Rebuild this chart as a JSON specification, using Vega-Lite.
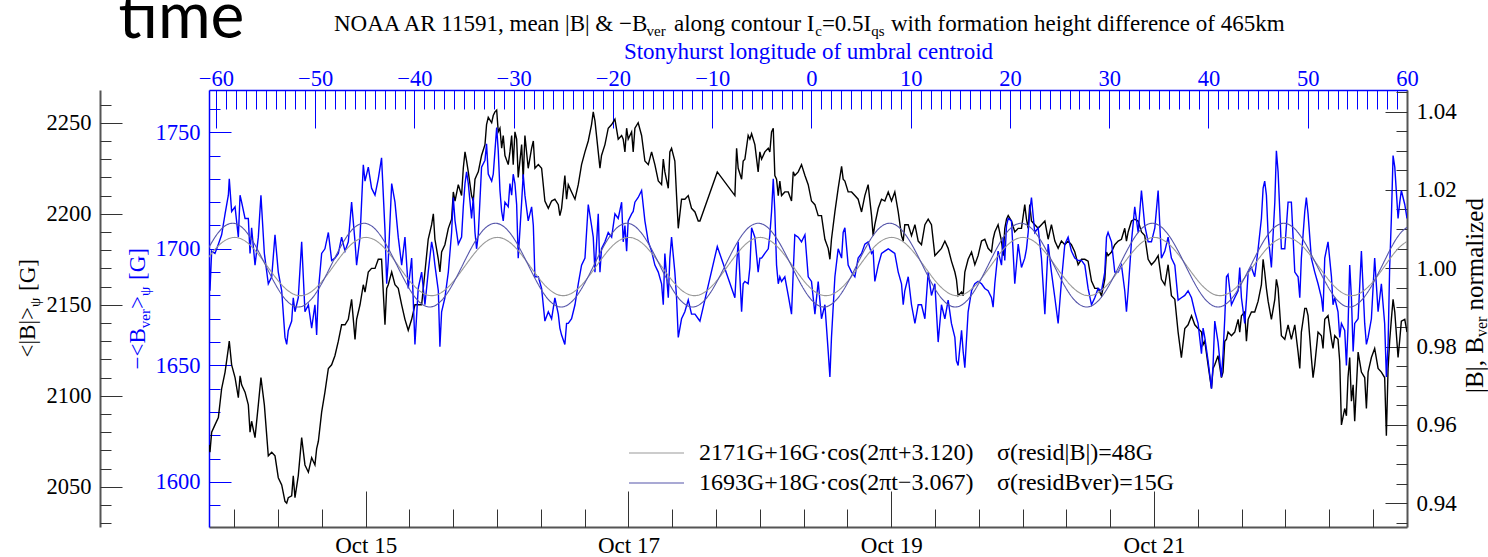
{
"$schema": "https://vega.github.io/schema/vega-lite/v6.json",
"width": 1198, "height": 437,
"autosize": {"type": "none"},
"padding": {"left": 209, "top": 90, "right": 81, "bottom": 30},
"background": "white",
"config": {
 "font": "Liberation Serif",
 "style": {"guide-label": {"font": "Liberation Serif"}, "guide-title": {"font": "Liberation Serif"}},
 "view": {"stroke": null},
 "axis": {"grid": false, "labelFlush": false, "labelOverlap": false, "labelBound": false, "labelFont": "Liberation Serif", "titleFont": "Liberation Serif", "labelFontSize": 22.5, "titleFontSize": 23, "titleFontWeight": "normal", "labelColor": "#000000", "titleColor": "#000000", "tickColor": "#333333", "tickWidth": 1, "domainColor": "#555555", "domainWidth": 2, "titleAlign": "left", "titleBaseline": "alphabetic", "titleLimit": 2000},
 "axisLeft": {"labelFont": "Liberation Serif"},
 "axisRight": {"labelFont": "Liberation Serif"},
 "axisTop": {"labelFont": "Liberation Serif"},
 "axisBottom": {"labelFont": "Liberation Serif"}
},
"datasets": {
"m": [
{"d":13.808,"B":2073,"V":1700},{"d":13.815,"B":2069,"V":1682},{"d":13.828,"B":2080,"V":1699},{"d":13.853,"B":2084,"V":1698},{"d":13.879,"B":2088,"V":1702},{"d":13.904,"B":2104,"V":1706},{"d":13.930,"B":2113,"V":1715},{"d":13.955,"B":2126,"V":1723},{"d":13.962,"B":2130,"V":1730},{"d":13.980,"B":2117,"V":1716},{"d":14.006,"B":2110,"V":1718},{"d":14.031,"B":2099,"V":1705},{"d":14.044,"B":2111,"V":1723},{"d":14.056,"B":2106,"V":1720},{"d":14.082,"B":2102,"V":1713},{"d":14.107,"B":2095,"V":1713},{"d":14.120,"B":2080,"V":1698},{"d":14.132,"B":2086,"V":1709},{"d":14.158,"B":2077,"V":1693},{"d":14.183,"B":2095,"V":1705},{"d":14.203,"B":2110,"V":1723},{"d":14.229,"B":2095,"V":1698},{"d":14.259,"B":2067,"V":1685},{"d":14.285,"B":2069,"V":1688},{"d":14.310,"B":2067,"V":1706},{"d":14.335,"B":2055,"V":1690},{"d":14.361,"B":2051,"V":1682},{"d":14.386,"B":2042,"V":1662},{"d":14.399,"B":2041,"V":1659},{"d":14.411,"B":2044,"V":1665},{"d":14.437,"B":2045,"V":1669},{"d":14.449,"B":2056,"V":1679},{"d":14.462,"B":2044,"V":1673},{"d":14.487,"B":2056,"V":1679},{"d":14.513,"B":2077,"V":1703},{"d":14.538,"B":2062,"V":1673},{"d":14.564,"B":2058,"V":1676},{"d":14.589,"B":2066,"V":1666},{"d":14.614,"B":2062,"V":1676},{"d":14.627,"B":2071,"V":1663},{"d":14.640,"B":2075,"V":1682},{"d":14.665,"B":2091,"V":1698},{"d":14.690,"B":2102,"V":1700},{"d":14.716,"B":2115,"V":1707},{"d":14.741,"B":2117,"V":1695},{"d":14.766,"B":2122,"V":1696},{"d":14.792,"B":2130,"V":1698},{"d":14.817,"B":2139,"V":1705},{"d":14.843,"B":2139,"V":1699},{"d":14.868,"B":2142,"V":1703},{"d":14.893,"B":2153,"V":1720},{"d":14.919,"B":2131,"V":1703},{"d":14.931,"B":2142,"V":1693},{"d":14.957,"B":2150,"V":1705},{"d":14.982,"B":2161,"V":1736},{"d":14.995,"B":2157,"V":1729},{"d":15.020,"B":2168,"V":1735},{"d":15.045,"B":2170,"V":1726},{"d":15.071,"B":2170,"V":1723},{"d":15.096,"B":2175,"V":1730},{"d":15.121,"B":2175,"V":1739},{"d":15.147,"B":2139,"V":1708},{"d":15.160,"B":2159,"V":1685},{"d":15.172,"B":2161,"V":1695},{"d":15.198,"B":2168,"V":1728},{"d":15.223,"B":2161,"V":1720},{"d":15.248,"B":2159,"V":1705},{"d":15.274,"B":2150,"V":1693},{"d":15.299,"B":2142,"V":1705},{"d":15.324,"B":2136,"V":1683},{"d":15.350,"B":2142,"V":1696},{"d":15.375,"B":2150,"V":1659},{"d":15.400,"B":2150,"V":1683},{"d":15.426,"B":2150,"V":1690},{"d":15.451,"B":2168,"V":1676},{"d":15.476,"B":2186,"V":1690},{"d":15.502,"B":2194,"V":1703},{"d":15.515,"B":2200,"V":1699},{"d":15.527,"B":2186,"V":1693},{"d":15.553,"B":2175,"V":1682},{"d":15.565,"B":2168,"V":1658},{"d":15.578,"B":2179,"V":1673},{"d":15.603,"B":2183,"V":1679},{"d":15.629,"B":2192,"V":1690},
{"d":15.654,"B":2197,"V":1707},{"d":15.667,"B":2212,"V":1722},{"d":15.680,"B":2207,"V":1712},{"d":15.705,"B":2216,"V":1702},{"d":15.730,"B":2210,"V":1705},{"d":15.743,"B":2225,"V":1718},{"d":15.756,"B":2234,"V":1728},{"d":15.768,"B":2229,"V":1733},{"d":15.781,"B":2223,"V":1728},{"d":15.806,"B":2210,"V":1713},{"d":15.819,"B":2207,"V":1722},{"d":15.832,"B":2219,"V":1707},{"d":15.844,"B":2221,"V":1700},{"d":15.857,"B":2223,"V":1706},{"d":15.882,"B":2232,"V":1735},{"d":15.908,"B":2238,"V":1738},{"d":15.920,"B":2249,"V":1745},{"d":15.933,"B":2253,"V":1732},{"d":15.959,"B":2250,"V":1729},{"d":15.971,"B":2254,"V":1732},{"d":15.984,"B":2256,"V":1742},{"d":15.997,"B":2257,"V":1752},{"d":16.009,"B":2245,"V":1742},{"d":16.022,"B":2247,"V":1725},{"d":16.035,"B":2236,"V":1716},{"d":16.047,"B":2243,"V":1712},{"d":16.060,"B":2232,"V":1720},{"d":16.085,"B":2227,"V":1718},{"d":16.098,"B":2234,"V":1728},{"d":16.111,"B":2243,"V":1723},{"d":16.123,"B":2227,"V":1732},{"d":16.136,"B":2245,"V":1728},{"d":16.149,"B":2241,"V":1719},{"d":16.161,"B":2220,"V":1696},{"d":16.187,"B":2238,"V":1720},{"d":16.199,"B":2219,"V":1732},{"d":16.212,"B":2243,"V":1723},{"d":16.237,"B":2225,"V":1712},{"d":16.263,"B":2236,"V":1718},{"d":16.276,"B":2240,"V":1710},{"d":16.288,"B":2225,"V":1688},{"d":16.314,"B":2227,"V":1688},{"d":16.339,"B":2225,"V":1683},{"d":16.364,"B":2207,"V":1669},{"d":16.390,"B":2203,"V":1673},{"d":16.415,"B":2207,"V":1670},{"d":16.440,"B":2208,"V":1679},{"d":16.466,"B":2205,"V":1672},{"d":16.478,"B":2199,"V":1666},{"d":16.491,"B":2203,"V":1663},{"d":16.516,"B":2221,"V":1659},{"d":16.529,"B":2208,"V":1668},{"d":16.542,"B":2216,"V":1668},{"d":16.567,"B":2212,"V":1670},{"d":16.593,"B":2208,"V":1676},{"d":16.618,"B":2216,"V":1685},{"d":16.643,"B":2227,"V":1693},{"d":16.669,"B":2234,"V":1696},{"d":16.694,"B":2240,"V":1719},{"d":16.719,"B":2249,"V":1710},{"d":16.732,"B":2256,"V":1705},{"d":16.745,"B":2251,"V":1690},{"d":16.770,"B":2234,"V":1715},{"d":16.783,"B":2225,"V":1690},{"d":16.795,"B":2232,"V":1700},{"d":16.821,"B":2238,"V":1703},{"d":16.846,"B":2247,"V":1707},{"d":16.872,"B":2249,"V":1705},{"d":16.897,"B":2252,"V":1715},{"d":16.922,"B":2241,"V":1713},{"d":16.948,"B":2243,"V":1720},{"d":16.960,"B":2241,"V":1703},{"d":16.973,"B":2234,"V":1710},{"d":16.986,"B":2247,"V":1699},{"d":16.998,"B":2241,"V":1712},{"d":17.024,"B":2245,"V":1715},{"d":17.036,"B":2234,"V":1716},{"d":17.049,"B":2247,"V":1720},{"d":17.074,"B":2250,"V":1722},{"d":17.100,"B":2243,"V":1725},{"d":17.125,"B":2229,"V":1712},{"d":17.151,"B":2227,"V":1703},{"d":17.176,"B":2234,"V":1699},{"d":17.201,"B":2227,"V":1693},{"d":17.227,"B":2218,"V":1690},{"d":17.252,"B":2216,"V":1685},{"d":17.265,"B":2230,"V":1676},{"d":17.277,"B":2223,"V":1698},{"d":17.303,"B":2214,"V":1679},{"d":17.315,"B":2234,"V":1696},{"d":17.328,"B":2236,"V":1705},{"d":17.353,"B":2229,"V":1690},{"d":17.366,"B":2210,"V":1679},{"d":17.379,"B":2192,"V":1662},{"d":17.404,"B":2208,"V":1670},{"d":17.429,"B":2208,"V":1673},{"d":17.455,"B":2210,"V":1678},
{"d":17.480,"B":2203,"V":1672},{"d":17.506,"B":2201,"V":1672},{"d":17.531,"B":2196,"V":1670},{"d":17.544,"B":2196,"V":1669},{"d":17.676,"B":2223,"V":1701},{"d":17.810,"B":2210,"V":1679},{"d":17.823,"B":2236,"V":1693},{"d":17.835,"B":2225,"V":1703},{"d":17.861,"B":2219,"V":1673},{"d":17.873,"B":2229,"V":1685},{"d":17.886,"B":2230,"V":1686},{"d":17.911,"B":2243,"V":1685},{"d":17.924,"B":2241,"V":1692},{"d":17.937,"B":2244,"V":1709},{"d":17.962,"B":2238,"V":1705},{"d":17.987,"B":2223,"V":1690},{"d":18.000,"B":2234,"V":1696},{"d":18.013,"B":2230,"V":1696},{"d":18.038,"B":2234,"V":1698},{"d":18.064,"B":2236,"V":1700},{"d":18.076,"B":2234,"V":1706},{"d":18.089,"B":2245,"V":1716},{"d":18.102,"B":2247,"V":1730},{"d":18.114,"B":2221,"V":1716},{"d":18.127,"B":2219,"V":1693},{"d":18.140,"B":2210,"V":1685},{"d":18.152,"B":2218,"V":1688},{"d":18.165,"B":2210,"V":1686},{"d":18.190,"B":2212,"V":1688},{"d":18.216,"B":2212,"V":1680},{"d":18.241,"B":2207,"V":1672},{"d":18.254,"B":2223,"V":1690},{"d":18.266,"B":2221,"V":1706},{"d":18.292,"B":2223,"V":1705},{"d":18.317,"B":2227,"V":1703},{"d":18.343,"B":2221,"V":1706},{"d":18.368,"B":2216,"V":1688},{"d":18.393,"B":2207,"V":1686},{"d":18.419,"B":2205,"V":1672},{"d":18.444,"B":2199,"V":1686},{"d":18.469,"B":2199,"V":1670},{"d":18.495,"B":2186,"V":1676},{"d":18.520,"B":2181,"V":1656},{"d":18.533,"B":2175,"V":1645},{"d":18.545,"B":2186,"V":1662},{"d":18.571,"B":2201,"V":1688},{"d":18.596,"B":2214,"V":1700},{"d":18.622,"B":2226,"V":1696},{"d":18.634,"B":2219,"V":1707},{"d":18.647,"B":2218,"V":1709},{"d":18.672,"B":2212,"V":1693},{"d":18.698,"B":2212,"V":1690},{"d":18.723,"B":2210,"V":1688},{"d":18.748,"B":2208,"V":1696},{"d":18.774,"B":2201,"V":1698},{"d":18.799,"B":2210,"V":1702},{"d":18.824,"B":2216,"V":1703},{"d":18.850,"B":2199,"V":1698},{"d":18.862,"B":2188,"V":1699},{"d":18.875,"B":2194,"V":1686},{"d":18.901,"B":2203,"V":1693},{"d":18.926,"B":2208,"V":1698},{"d":18.951,"B":2207,"V":1699},{"d":18.977,"B":2212,"V":1700},{"d":19.002,"B":2207,"V":1699},{"d":19.027,"B":2212,"V":1698},{"d":19.053,"B":2201,"V":1690},{"d":19.078,"B":2188,"V":1685},{"d":19.091,"B":2185,"V":1676},{"d":19.103,"B":2194,"V":1682},{"d":19.129,"B":2194,"V":1688},{"d":19.154,"B":2188,"V":1676},{"d":19.180,"B":2194,"V":1668},{"d":19.205,"B":2185,"V":1676},{"d":19.230,"B":2183,"V":1676},{"d":19.256,"B":2194,"V":1670},{"d":19.281,"B":2197,"V":1690},
{"d":19.306,"B":2194,"V":1680},{"d":19.332,"B":2177,"V":1685},{"d":19.357,"B":2179,"V":1660},{"d":19.382,"B":2181,"V":1676},{"d":19.408,"B":2185,"V":1670},{"d":19.433,"B":2181,"V":1678},{"d":19.458,"B":2174,"V":1668},{"d":19.484,"B":2168,"V":1662},{"d":19.496,"B":2164,"V":1652},{"d":19.509,"B":2155,"V":1650},{"d":19.535,"B":2157,"V":1665},{"d":19.547,"B":2155,"V":1656},{"d":19.560,"B":2168,"V":1649},{"d":19.585,"B":2175,"V":1673},{"d":19.611,"B":2179,"V":1682},{"d":19.636,"B":2172,"V":1685},{"d":19.661,"B":2177,"V":1686},{"d":19.687,"B":2185,"V":1685},{"d":19.712,"B":2186,"V":1683},{"d":19.737,"B":2181,"V":1682},{"d":19.763,"B":2179,"V":1679},{"d":19.775,"B":2186,"V":1675},{"d":19.788,"B":2190,"V":1685},{"d":19.813,"B":2194,"V":1699},{"d":19.839,"B":2185,"V":1693},{"d":19.852,"B":2177,"V":1705},{"d":19.864,"B":2192,"V":1695},{"d":19.877,"B":2197,"V":1710},{"d":19.890,"B":2199,"V":1713},{"d":19.915,"B":2196,"V":1712},{"d":19.940,"B":2190,"V":1685},{"d":19.966,"B":2192,"V":1702},{"d":19.991,"B":2192,"V":1692},{"d":20.016,"B":2205,"V":1696},{"d":20.029,"B":2197,"V":1700},{"d":20.042,"B":2192,"V":1707},{"d":20.054,"B":2205,"V":1716},{"d":20.067,"B":2196,"V":1722},{"d":20.092,"B":2194,"V":1707},{"d":20.118,"B":2192,"V":1709},{"d":20.143,"B":2194,"V":1696},{"d":20.169,"B":2196,"V":1672},{"d":20.194,"B":2186,"V":1702},{"d":20.219,"B":2194,"V":1690},{"d":20.245,"B":2185,"V":1679},{"d":20.270,"B":2181,"V":1668},{"d":20.295,"B":2185,"V":1686},{"d":20.321,"B":2183,"V":1702},{"d":20.346,"B":2185,"V":1705},{"d":20.371,"B":2183,"V":1699},{"d":20.397,"B":2179,"V":1696},{"d":20.422,"B":2172,"V":1695},{"d":20.448,"B":2175,"V":1695},{"d":20.473,"B":2175,"V":1693},{"d":20.498,"B":2174,"V":1683},{"d":20.524,"B":2163,"V":1676},{"d":20.549,"B":2159,"V":1679},{"d":20.574,"B":2159,"V":1683},{"d":20.600,"B":2155,"V":1682},{"d":20.625,"B":2164,"V":1690},{"d":20.638,"B":2179,"V":1705},{"d":20.650,"B":2177,"V":1707},{"d":20.676,"B":2179,"V":1703},{"d":20.701,"B":2183,"V":1690},{"d":20.727,"B":2185,"V":1690},{"d":20.752,"B":2186,"V":1693},{"d":20.777,"B":2192,"V":1682},{"d":20.790,"B":2185,"V":1673},{"d":20.803,"B":2190,"V":1682},{"d":20.828,"B":2196,"V":1703},{"d":20.853,"B":2197,"V":1718},{"d":20.879,"B":2196,"V":1707},{"d":20.904,"B":2190,"V":1725},{"d":20.929,"B":2188,"V":1710},{"d":20.955,"B":2175,"V":1703},{"d":20.980,"B":2172,"V":1703},{"d":21.006,"B":2174,"V":1709},{"d":21.031,"B":2177,"V":1725},{"d":21.056,"B":2164,"V":1696},{"d":21.082,"B":2161,"V":1699},{"d":21.107,"B":2172,"V":1705},
{"d":21.132,"B":2155,"V":1696},{"d":21.158,"B":2153,"V":1693},{"d":21.183,"B":2135,"V":1678},{"d":21.208,"B":2121,"V":1679},{"d":21.234,"B":2137,"V":1680},{"d":21.259,"B":2139,"V":1682},{"d":21.285,"B":2144,"V":1679},{"d":21.310,"B":2139,"V":1673},{"d":21.335,"B":2137,"V":1668},{"d":21.361,"B":2135,"V":1655},{"d":21.373,"B":2128,"V":1666},{"d":21.386,"B":2130,"V":1662},{"d":21.411,"B":2117,"V":1652},{"d":21.437,"B":2104,"V":1640},{"d":21.449,"B":2115,"V":1650},{"d":21.462,"B":2117,"V":1669},{"d":21.487,"B":2122,"V":1660},{"d":21.513,"B":2110,"V":1645},{"d":21.525,"B":2113,"V":1655},{"d":21.538,"B":2130,"V":1670},{"d":21.551,"B":2131,"V":1688},{"d":21.563,"B":2135,"V":1689},{"d":21.589,"B":2133,"V":1676},{"d":21.614,"B":2135,"V":1679},{"d":21.640,"B":2142,"V":1682},{"d":21.652,"B":2135,"V":1692},{"d":21.665,"B":2144,"V":1679},{"d":21.690,"B":2146,"V":1668},{"d":21.703,"B":2130,"V":1678},{"d":21.716,"B":2142,"V":1690},{"d":21.741,"B":2146,"V":1692},{"d":21.766,"B":2146,"V":1688},{"d":21.792,"B":2152,"V":1700},{"d":21.817,"B":2161,"V":1713},{"d":21.830,"B":2175,"V":1726},{"d":21.842,"B":2168,"V":1729},{"d":21.855,"B":2159,"V":1723},{"d":21.868,"B":2152,"V":1706},{"d":21.893,"B":2142,"V":1692},{"d":21.919,"B":2153,"V":1720},{"d":21.931,"B":2164,"V":1742},{"d":21.944,"B":2159,"V":1733},{"d":21.969,"B":2133,"V":1700},{"d":21.995,"B":2131,"V":1700},{"d":22.020,"B":2139,"V":1720},{"d":22.045,"B":2131,"V":1720},{"d":22.071,"B":2139,"V":1690},{"d":22.096,"B":2124,"V":1688},{"d":22.109,"B":2115,"V":1679},{"d":22.121,"B":2135,"V":1696},{"d":22.147,"B":2148,"V":1716},{"d":22.159,"B":2148,"V":1722},{"d":22.172,"B":2144,"V":1715},{"d":22.197,"B":2121,"V":1696},{"d":22.210,"B":2110,"V":1693},{"d":22.223,"B":2117,"V":1690},{"d":22.248,"B":2135,"V":1685},{"d":22.274,"B":2133,"V":1679},{"d":22.286,"B":2126,"V":1673},{"d":22.299,"B":2142,"V":1696},{"d":22.324,"B":2144,"V":1703},{"d":22.350,"B":2131,"V":1688},{"d":22.362,"B":2126,"V":1676},{"d":22.375,"B":2133,"V":1679},{"d":22.400,"B":2131,"V":1673},{"d":22.413,"B":2119,"V":1662},{"d":22.426,"B":2084,"V":1668},{"d":22.451,"B":2093,"V":1665},{"d":22.464,"B":2089,"V":1650},{"d":22.476,"B":2110,"V":1666},{"d":22.489,"B":2121,"V":1693},{"d":22.502,"B":2097,"V":1679},{"d":22.515,"B":2106,"V":1656},{"d":22.527,"B":2086,"V":1668},{"d":22.553,"B":2124,"V":1670},{"d":22.578,"B":2113,"V":1699},{"d":22.603,"B":2110,"V":1668},{"d":22.616,"B":2093,"V":1659},{"d":22.629,"B":2113,"V":1662},{"d":22.654,"B":2121,"V":1670},{"d":22.679,"B":2126,"V":1696},{"d":22.705,"B":2115,"V":1673},{"d":22.730,"B":2113,"V":1685},{"d":22.755,"B":2110,"V":1668},{"d":22.768,"B":2078,"V":1645},{"d":22.781,"B":2115,"V":1659},{"d":22.793,"B":2130,"V":1692},{"d":22.806,"B":2142,"V":1713},{"d":22.819,"B":2153,"V":1740},{"d":22.832,"B":2146,"V":1735},{"d":22.857,"B":2121,"V":1713},{"d":22.870,"B":2131,"V":1720},{"d":22.882,"B":2141,"V":1725},{"d":22.908,"B":2142,"V":1719},{"d":22.925,"B":2135,"V":1713}
],
"fit": [
{"d":13.75,"F":2170.7,"G":1694.4},{"d":13.875,"F":2182.1,"G":1706.7},
{"d":14,"F":2187,"G":1710.9},{"d":14.125,"F":2182.5,"G":1704.7},{"d":14.25,"F":2171.3,"G":1691.6},{"d":14.375,"F":2159.9,"G":1679.3},{"d":14.5,"F":2155,"G":1675.1},{"d":14.625,"F":2159.5,"G":1681.3},{"d":14.75,"F":2170.7,"G":1694.4},{"d":14.875,"F":2182.1,"G":1706.7},
{"d":15,"F":2187,"G":1710.9},{"d":15.125,"F":2182.5,"G":1704.7},{"d":15.25,"F":2171.3,"G":1691.6},{"d":15.375,"F":2159.9,"G":1679.3},{"d":15.5,"F":2155,"G":1675.1},{"d":15.625,"F":2159.5,"G":1681.3},{"d":15.75,"F":2170.7,"G":1694.4},{"d":15.875,"F":2182.1,"G":1706.7},
{"d":16,"F":2187,"G":1710.9},{"d":16.125,"F":2182.5,"G":1704.7},{"d":16.25,"F":2171.3,"G":1691.6},{"d":16.375,"F":2159.9,"G":1679.3},{"d":16.5,"F":2155,"G":1675.1},{"d":16.625,"F":2159.5,"G":1681.3},{"d":16.75,"F":2170.7,"G":1694.4},{"d":16.875,"F":2182.1,"G":1706.7},
{"d":17,"F":2187,"G":1710.9},{"d":17.125,"F":2182.5,"G":1704.7},{"d":17.25,"F":2171.3,"G":1691.6},{"d":17.375,"F":2159.9,"G":1679.3},{"d":17.5,"F":2155,"G":1675.1},{"d":17.625,"F":2159.5,"G":1681.3},{"d":17.75,"F":2170.7,"G":1694.4},{"d":17.875,"F":2182.1,"G":1706.7},
{"d":18,"F":2187,"G":1710.9},{"d":18.125,"F":2182.5,"G":1704.7},{"d":18.25,"F":2171.3,"G":1691.6},{"d":18.375,"F":2159.9,"G":1679.3},{"d":18.5,"F":2155,"G":1675.1},{"d":18.625,"F":2159.5,"G":1681.3},{"d":18.75,"F":2170.7,"G":1694.4},{"d":18.875,"F":2182.1,"G":1706.7},
{"d":19,"F":2187,"G":1710.9},{"d":19.125,"F":2182.5,"G":1704.7},{"d":19.25,"F":2171.3,"G":1691.6},{"d":19.375,"F":2159.9,"G":1679.3},{"d":19.5,"F":2155,"G":1675.1},{"d":19.625,"F":2159.5,"G":1681.3},{"d":19.75,"F":2170.7,"G":1694.4},{"d":19.875,"F":2182.1,"G":1706.7},
{"d":20,"F":2187,"G":1710.9},{"d":20.125,"F":2182.5,"G":1704.7},{"d":20.25,"F":2171.3,"G":1691.6},{"d":20.375,"F":2159.9,"G":1679.3},{"d":20.5,"F":2155,"G":1675.1},{"d":20.625,"F":2159.5,"G":1681.3},{"d":20.75,"F":2170.7,"G":1694.4},{"d":20.875,"F":2182.1,"G":1706.7},
{"d":21,"F":2187,"G":1710.9},{"d":21.125,"F":2182.5,"G":1704.7},{"d":21.25,"F":2171.3,"G":1691.6},{"d":21.375,"F":2159.9,"G":1679.3},{"d":21.5,"F":2155,"G":1675.1},{"d":21.625,"F":2159.5,"G":1681.3},{"d":21.75,"F":2170.7,"G":1694.4},{"d":21.875,"F":2182.1,"G":1706.7},
{"d":22,"F":2187,"G":1710.9},{"d":22.125,"F":2182.5,"G":1704.7},{"d":22.25,"F":2171.3,"G":1691.6},{"d":22.375,"F":2159.9,"G":1679.3},{"d":22.5,"F":2155,"G":1675.1},{"d":22.625,"F":2159.5,"G":1681.3},{"d":22.75,"F":2170.7,"G":1694.4},{"d":22.875,"F":2182.1,"G":1706.7},
{"d":23,"F":2187,"G":1710.9}
],
"ax": [{"lon":-60,"n":0.94},{"lon":60,"n":1.04}]
},
"layer": [
{
 "data": {"name": "m"},
 "mark": {"type": "line", "color": "#000000", "strokeWidth": 1.4, "clip": true},
 "encoding": {
  "x": {"field": "d", "type": "quantitative", "scale": {"domain": [13.8077, 22.925], "nice": false, "zero": false},
   "axis": {"orient": "bottom", "values": [15,17,19,21], "labelExpr": "'Oct ' + datum.value", "tickSize": -36, "labelPadding": 43, "labelBaseline": "top", "labelFont": "Liberation Serif", "labelFontSize": 23, "title": null}},
  "y": {"field": "B", "type": "quantitative", "scale": {"domain": [2027.9, 2268], "nice": false, "zero": false},
   "axis": {"orient": "left", "offset": 109, "values": [2050,2100,2150,2200,2250], "format": "d", "tickSize": -22, "labelPadding": 31, "labelFont": "Liberation Serif", "labelFontSize": 22.5, "title": null}}
 }
},
{
 "data": {"name": "m"},
 "mark": {"type": "line", "color": "#0000ff", "strokeWidth": 1.4, "clip": true},
 "encoding": {
  "x": {"field": "d", "type": "quantitative", "scale": {"domain": [13.8077, 22.925], "nice": false, "zero": false},
   "axis": {"orient": "bottom", "values": [14,14.3333,14.6667,15,15.3333,15.6667,16,16.3333,16.6667,17,17.3333,17.6667,18,18.3333,18.6667,19,19.3333,19.6667,20,20.3333,20.6667,21,21.3333,21.6667,22,22.3333,22.6667], "tickSize": -18, "labels": false, "domain": false,
    "title": "time", "titleFont": "Lato", "titleFontSize": 64, "titleX": -91, "titleY": -490}},
  "y": {"field": "V", "type": "quantitative", "scale": {"domain": [1580.7, 1768.1], "nice": false, "zero": false},
   "axis": {"orient": "left", "offset": 0, "values": [1600,1650,1700,1750], "format": "d", "tickSize": -22, "labelPadding": 31, "labelFont": "Liberation Serif", "labelFontSize": 22.5, "tickColor": "#0000ff", "domainColor": "#0000ff", "domainWidth": 1.5, "labelColor": "#0000ff", "title": null}}
 }
},
{
 "data": {"name": "fit"},
 "mark": {"type": "line", "strokeWidth": 1.1, "interpolate": "natural", "clip": true},
 "encoding": {
  "x": {"field": "d", "type": "quantitative", "scale": {"domain": [13.8077, 22.925], "nice": false, "zero": false}, "axis": null},
  "y": {"field": "F", "type": "quantitative", "scale": {"domain": [2027.9, 2268], "nice": false, "zero": false},
   "axis": {"orient": "left", "offset": 109, "values": [2030,2040,2050,2060,2070,2080,2090,2100,2110,2120,2130,2140,2150,2160,2170,2180,2190,2200,2210,2220,2230,2240,2250,2260], "tickSize": -11, "labels": false, "domain": false, "title": null}},
  "color": {"datum": "2171G+16G·cos(2πt+3.120)", "scale": {"domain": ["2171G+16G·cos(2πt+3.120)", "1693G+18G·cos(2πt−3.067)"], "range": ["#999999", "#5555aa"]},
   "legend": {"orient": "none", "legendX": 419, "legendY": 348, "title": null, "symbolType": "stroke", "symbolSize": 3025, "symbolStrokeWidth": 1.2, "clipHeight": 30, "rowPadding": 0, "padding": 0, "labelFont": "Liberation Serif", "labelFontSize": 24, "labelColor": "#000000", "labelOffset": 14, "labelLimit": 800}},
  "strokeDash": {"datum": "σ(resid|B|)=48G", "scale": {"domain": ["σ(resid|B|)=48G", "σ(residBver)=15G"], "range": [[1,0],[1,0]]},
   "legend": {"orient": "none", "legendX": 764, "legendY": 348, "title": null, "symbolType": "stroke", "symbolSize": 1, "symbolOpacity": 0, "symbolStrokeWidth": 0, "clipHeight": 30, "rowPadding": 0, "padding": 0, "labelFont": "Liberation Serif", "labelFontSize": 24, "labelColor": "#000000", "labelOffset": 0, "labelLimit": 800,
    "encode": {"labels": {"update": {"fill": {"signal": "indexof(datum.label, 'ver') >= 0 ? '#0000ff' : '#000000'"}}}}}}
 }
},
{
 "data": {"name": "fit"},
 "mark": {"type": "line", "strokeWidth": 1.1, "interpolate": "natural", "clip": true},
 "encoding": {
  "x": {"field": "d", "type": "quantitative", "scale": {"domain": [13.8077, 22.925], "nice": false, "zero": false}, "axis": null},
  "y": {"field": "G", "type": "quantitative", "scale": {"domain": [1580.7, 1768.1], "nice": false, "zero": false},
   "axis": {"orient": "left", "offset": 0, "values": [1590,1600,1610,1620,1630,1640,1650,1660,1670,1680,1690,1700,1710,1720,1730,1740,1750,1760], "tickSize": -11, "tickColor": "#0000ff", "labels": false, "domain": false, "title": null}},
  "color": {"datum": "1693G+18G·cos(2πt−3.067)"},
  "strokeDash": {"datum": "σ(residBver)=15G"}
 }
},
{
 "data": {"name": "ax"},
 "mark": {"type": "point", "opacity": 0},
 "encoding": {
  "x": {"field": "lon", "type": "quantitative", "scale": {"domain": [-60.7, 60], "nice": false, "zero": false},
   "axis": {"orient": "top", "values": [-60,-50,-40,-30,-20,-10,0,10,20,30,40,50,60], "format": "d", "tickSize": -38, "labelPadding": 43, "labelBaseline": "alphabetic", "labelFont": "Liberation Serif", "labelFontSize": 22.5, "tickColor": "#0000ff", "domainColor": "#0000ff", "domainWidth": 1.5, "labelColor": "#0000ff",
    "title": "Stonyhurst longitude of umbral centroid", "titleColor": "#0000ff", "titleAlign": "center", "titleX": 599, "titleY": -32}},
  "y": {"field": "n", "type": "quantitative", "scale": {"domain": [0.93395, 1.0455], "nice": false, "zero": false},
   "axis": {"orient": "right", "values": [0.94,0.96,0.98,1.0,1.02,1.04], "format": ".2f", "tickSize": -22, "labelPadding": 31, "labelFont": "Liberation Serif", "labelFontSize": 23, "title": null}}
 }
},
{
 "data": {"name": "ax"},
 "mark": {"type": "point", "opacity": 0},
 "encoding": {
  "x": {"field": "lon", "type": "quantitative", "scale": {"domain": [-60.7, 60], "nice": false, "zero": false},
   "axis": {"orient": "top", "values": [-60,-59,-58,-57,-56,-55,-54,-53,-52,-51,-50,-49,-48,-47,-46,-45,-44,-43,-42,-41,-40,-39,-38,-37,-36,-35,-34,-33,-32,-31,-30,-29,-28,-27,-26,-25,-24,-23,-22,-21,-20,-19,-18,-17,-16,-15,-14,-13,-12,-11,-10,-9,-8,-7,-6,-5,-4,-3,-2,-1,0,1,2,3,4,5,6,7,8,9,10,11,12,13,14,15,16,17,18,19,20,21,22,23,24,25,26,27,28,29,30,31,32,33,34,35,36,37,38,39,40,41,42,43,44,45,46,47,48,49,50,51,52,53,54,55,56,57,58,59,60], "tickSize": -19, "tickColor": "#0000ff", "labels": false, "domain": false, "title": null}},
  "y": {"field": "n", "type": "quantitative", "scale": {"domain": [0.93395, 1.0455], "nice": false, "zero": false},
   "axis": {"orient": "right", "values": [0.935,0.94,0.945,0.95,0.955,0.96,0.965,0.97,0.975,0.98,0.985,0.99,0.995,1.0,1.005,1.01,1.015,1.02,1.025,1.03,1.035,1.04,1.045], "tickSize": -11, "labels": false, "domain": false, "title": null}}
 }
},
{
 "data": {"name": "ax"}, "mark": {"type": "point", "opacity": 0},
 "encoding": {
  "x": {"field": "lon", "type": "quantitative", "scale": {"domain": [-60.7, 60], "nice": false, "zero": false},
   "axis": {"orient": "top", "ticks": false, "labels": false, "domain": false, "title": "NOAA AR 11591, mean |B| & −B", "titleAngle": 0, "titleX": 124.5, "titleY": -59.5}},
  "y": {"field": "n", "type": "quantitative", "scale": {"domain": [0.93395, 1.0455], "nice": false, "zero": false},
   "axis": {"orient": "left", "offset": 0, "ticks": false, "labels": false, "domain": false, "title": "<|B|>", "titleAngle": 270, "titleX": -174.5, "titleY": 267}}
 }
},
{
 "data": {"name": "ax"}, "mark": {"type": "point", "opacity": 0},
 "encoding": {
  "x": {"field": "lon", "type": "quantitative", "scale": {"domain": [-60.7, 60], "nice": false, "zero": false},
   "axis": {"orient": "top", "ticks": false, "labels": false, "domain": false, "title": "ver", "titleFontSize": 15, "titleAngle": 0, "titleX": 437, "titleY": -54.5}},
  "y": {"field": "n", "type": "quantitative", "scale": {"domain": [0.93395, 1.0455], "nice": false, "zero": false},
   "axis": {"orient": "left", "offset": 0, "ticks": false, "labels": false, "domain": false, "title": "ψ", "titleFontSize": 15, "titleAngle": 270, "titleX": -169.5, "titleY": 216.5}}
 }
},
{
 "data": {"name": "ax"}, "mark": {"type": "point", "opacity": 0},
 "encoding": {
  "x": {"field": "lon", "type": "quantitative", "scale": {"domain": [-60.7, 60], "nice": false, "zero": false},
   "axis": {"orient": "top", "ticks": false, "labels": false, "domain": false, "title": "along contour I", "titleAngle": 0, "titleX": 464.5, "titleY": -59.5}},
  "y": {"field": "n", "type": "quantitative", "scale": {"domain": [0.93395, 1.0455], "nice": false, "zero": false},
   "axis": {"orient": "left", "offset": 0, "ticks": false, "labels": false, "domain": false, "title": "[G]", "titleAngle": 270, "titleX": -174.5, "titleY": 200.5}}
 }
},
{
 "data": {"name": "ax"}, "mark": {"type": "point", "opacity": 0},
 "encoding": {
  "x": {"field": "lon", "type": "quantitative", "scale": {"domain": [-60.7, 60], "nice": false, "zero": false},
   "axis": {"orient": "top", "ticks": false, "labels": false, "domain": false, "title": "c", "titleFontSize": 15, "titleAngle": 0, "titleX": 605.7, "titleY": -54.5}},
  "y": {"field": "n", "type": "quantitative", "scale": {"domain": [0.93395, 1.0455], "nice": false, "zero": false},
   "axis": {"orient": "left", "offset": 0, "ticks": false, "labels": false, "domain": false, "title": "−<B", "titleColor": "#0000ff", "titleAngle": 270, "titleX": -64.5, "titleY": 279}}
 }
},
{
 "data": {"name": "ax"}, "mark": {"type": "point", "opacity": 0},
 "encoding": {
  "x": {"field": "lon", "type": "quantitative", "scale": {"domain": [-60.7, 60], "nice": false, "zero": false},
   "axis": {"orient": "top", "ticks": false, "labels": false, "domain": false, "title": "=0.5I", "titleAngle": 0, "titleX": 612.4, "titleY": -59.5}},
  "y": {"field": "n", "type": "quantitative", "scale": {"domain": [0.93395, 1.0455], "nice": false, "zero": false},
   "axis": {"orient": "left", "offset": 0, "ticks": false, "labels": false, "domain": false, "title": "ver", "titleFontSize": 15, "titleColor": "#0000ff", "titleAngle": 270, "titleX": -59.5, "titleY": 237.7}}
 }
},
{
 "data": {"name": "ax"}, "mark": {"type": "point", "opacity": 0},
 "encoding": {
  "x": {"field": "lon", "type": "quantitative", "scale": {"domain": [-60.7, 60], "nice": false, "zero": false},
   "axis": {"orient": "top", "ticks": false, "labels": false, "domain": false, "title": "qs", "titleFontSize": 15, "titleAngle": 0, "titleX": 661.8, "titleY": -54.5}},
  "y": {"field": "n", "type": "quantitative", "scale": {"domain": [0.93395, 1.0455], "nice": false, "zero": false},
   "axis": {"orient": "left", "offset": 0, "ticks": false, "labels": false, "domain": false, "title": ">", "titleColor": "#0000ff", "titleAngle": 270, "titleX": -64.5, "titleY": 218.5}}
 }
},
{
 "data": {"name": "ax"}, "mark": {"type": "point", "opacity": 0},
 "encoding": {
  "x": {"field": "lon", "type": "quantitative", "scale": {"domain": [-60.7, 60], "nice": false, "zero": false},
   "axis": {"orient": "top", "ticks": false, "labels": false, "domain": false, "title": "with formation height difference of 465km", "titleAngle": 0, "titleX": 681.4, "titleY": -59.5}},
  "y": {"field": "n", "type": "quantitative", "scale": {"domain": [0.93395, 1.0455], "nice": false, "zero": false},
   "axis": {"orient": "left", "offset": 0, "ticks": false, "labels": false, "domain": false, "title": "ψ", "titleFontSize": 15, "titleColor": "#0000ff", "titleAngle": 270, "titleX": -59.5, "titleY": 205.5}}
 }
},
{
 "data": {"name": "ax"}, "mark": {"type": "point", "opacity": 0},
 "encoding": {
  "x": {"field": "lon", "type": "quantitative", "scale": {"domain": [-60.7, 60], "nice": false, "zero": false},
   "axis": {"orient": "top", "ticks": false, "labels": false, "domain": false, "title": "|B|, B", "titleFontSize": 25, "titleAngle": 270, "titleX": 1273, "titleY": 302.5}},
  "y": {"field": "n", "type": "quantitative", "scale": {"domain": [0.93395, 1.0455], "nice": false, "zero": false},
   "axis": {"orient": "left", "offset": 0, "ticks": false, "labels": false, "domain": false, "title": "[G]", "titleColor": "#0000ff", "titleAngle": 270, "titleX": -64.5, "titleY": 189.5}}
 }
},
{
 "data": {"name": "ax"}, "mark": {"type": "point", "opacity": 0},
 "encoding": {
  "x": {"field": "lon", "type": "quantitative", "scale": {"domain": [-60.7, 60], "nice": false, "zero": false},
   "axis": {"orient": "top", "ticks": false, "labels": false, "domain": false, "title": "ver", "titleFontSize": 16, "titleAngle": 270, "titleX": 1277, "titleY": 246.6}},
  "y": {"field": "n", "type": "quantitative", "scale": {"domain": [0.93395, 1.0455], "nice": false, "zero": false},
   "axis": {"orient": "left", "offset": 0, "ticks": false, "labels": false, "domain": false, "title": "normalized", "titleFontSize": 25, "titleAngle": 270, "titleX": 1273, "titleY": 220}}
 }
}
],
"resolve": {"scale": {"x": "independent", "y": "independent"}, "axis": {"x": "independent", "y": "independent"}}
}
